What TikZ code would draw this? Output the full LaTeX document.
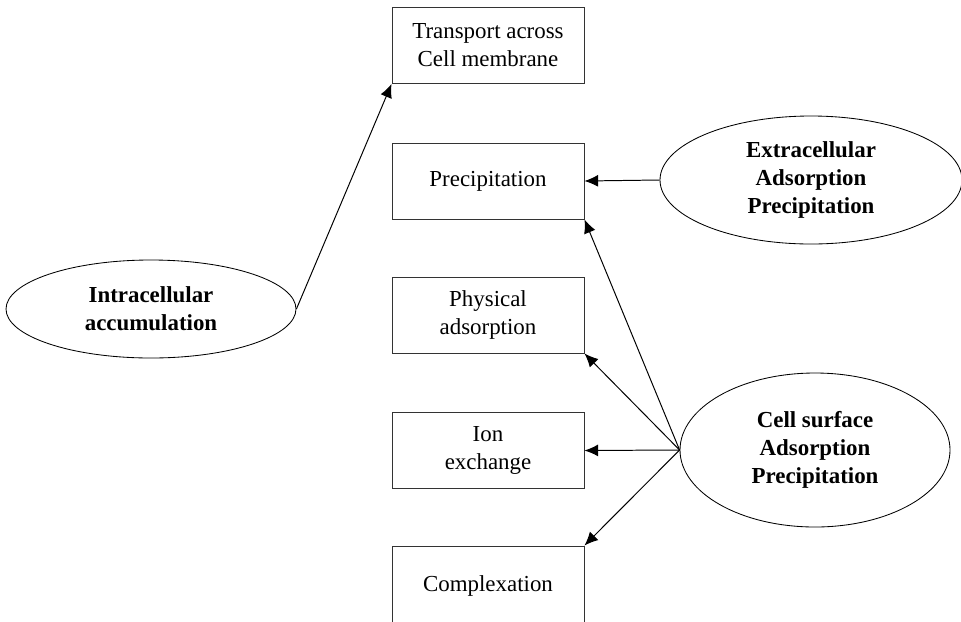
\documentclass[tikz,border=0pt]{standalone}
\usepackage{fontspec}
\setmainfont{Liberation Serif}
\usetikzlibrary{shapes.geometric,arrows.meta}
\tikzset{
  proc/.style={draw=black!80,line width=0.7pt,minimum width=4.8cm,minimum height=1.9cm,inner sep=0pt,align=center,font=\fontsize{16.3}{20}\selectfont},
  mode/.style={draw,ellipse,line width=0.6pt,inner sep=0pt,align=center,font=\fontsize{16.3}{20}\selectfont\bfseries},
  arr/.style={line width=0.7pt,-{Latex[length=3.4mm,width=3mm]}}
}
\begin{document}
\begin{tikzpicture}
\clip (0,0) rectangle (24.025,-15.525);
\node[proc] (transport) at (12.2,-1.1375) {Transport across\\Cell membrane};
\node[proc] (precip) at (12.2,-4.525) {Precipitation};
\node[proc] (phys) at (12.2,-7.875) {Physical\\adsorption};
\node[proc] (ion) at (12.2,-11.2625) {Ion\\exchange};
\node[proc,minimum height=2.2cm,text depth=0.3cm] (compl) at (12.2,-14.75) {Complexation};
\node[mode,minimum width=7.25cm,minimum height=2.45cm] (intra) at (3.775,-7.725) {Intracellular\\accumulation};
\node[mode,minimum width=7.55cm,minimum height=3.2cm] (extra) at (20.275,-4.5) {Extracellular\\Adsorption\\Precipitation};
\node[mode,minimum width=6.75cm,minimum height=3.85cm] (surf) at (20.375,-11.25) {Cell surface\\Adsorption\\Precipitation};
\draw[arr] (intra.east) -- (transport.south west);
\draw[arr] (extra.west) -- (precip.east);
\draw[arr] (surf.west) -- (precip.south east);
\draw[arr] (surf.west) -- (phys.south east);
\draw[arr] (surf.west) -- (ion.east);
\draw[arr] (surf.west) -- (compl.north east);
\end{tikzpicture}
\end{document}
